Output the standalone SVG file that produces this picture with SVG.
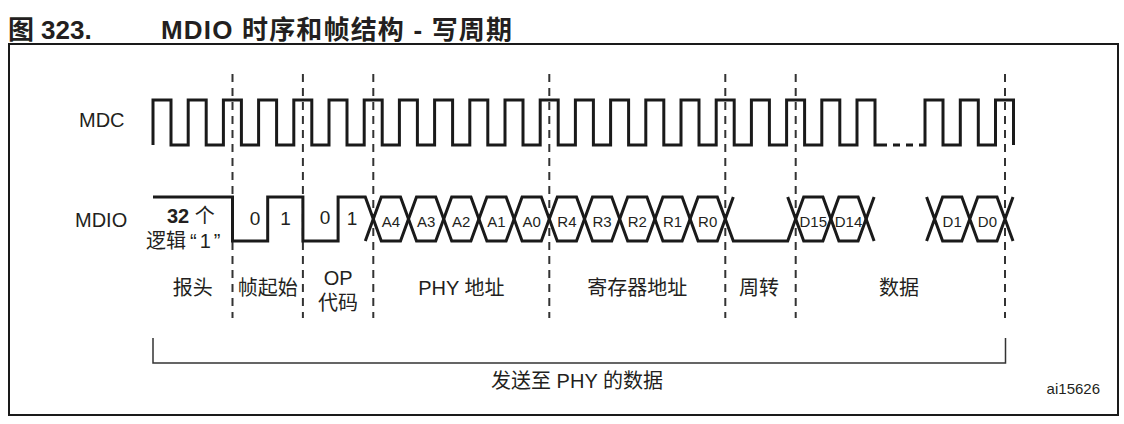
<svg xmlns="http://www.w3.org/2000/svg" width="1124" height="424" viewBox="0 0 1124 424">
<style>
.wave{fill:none;stroke:#1a1a1a;stroke-width:3;stroke-linejoin:miter;stroke-linecap:butt}
.dash{fill:none;stroke:#333;stroke-width:2;stroke-dasharray:8 6}
.t{font-family:"Liberation Sans","Noto Sans CJK SC",sans-serif;fill:#231f20}
.sig{font-size:20px}
.bit{font-size:15px;text-anchor:middle}
.b18{font-size:19px;text-anchor:middle}
.sec{font-size:20px;text-anchor:middle}
.title{font-size:26px;font-weight:bold}
</style>
<rect x="0" y="0" width="1124" height="424" fill="#fff"/>
<g id="title">
<text class="t title" x="8" y="39">图</text>
<text class="t title" x="41" y="39">323.</text>
<text class="t title" x="161" y="39" textLength="351" lengthAdjust="spacing">MDIO 时序和帧结构 - 写周期</text>
</g>
<rect id="frame" x="9" y="44" width="1109" height="371" fill="none" stroke="#1a1a1a" stroke-width="2"/>
<g id="connectors">
<path class="dash" d="M232.5,74V318M302.9,74V318M373.3,74V318M549.3,74V318M725.3,74V318M795.7,74V318M1005,74V318"/>
</g>
<g id="mdc">
<text class="t sig" x="79" y="127">MDC</text>
<path class="wave" d="M153,145V100H171V145H188.2V100H206.2V145H223.4V100H241.4V145H258.6V100H276.6V145H293.8V100H311.8V145H329V100H347V145H364.2V100H382.2V145H399.4V100H417.4V145H434.6V100H452.6V145H469.8V100H487.8V145H505V100H523V145H540.2V100H558.2V145H575.4V100H593.4V145H610.6V100H628.6V145H645.8V100H663.8V145H681V100H699V145H716.2V100H734.2V145H751.4V100H769.4V145H786.6V100H804.6V145H821.8V100H839.8V145H857V100H875V145H887"/>
<path class="wave" d="M893,145H900M906,145H913M919,145H925V100H943V145H960.3V100H978.3V145H995.5V100H1013.5V145"/>
</g>
<g id="mdio">
<text class="t sig" x="75" y="227">MDIO</text>
<path class="wave" d="M153,197H232.5V241H267.7V197H302.9V241H338.1V197H365.3L381.3,241H400.5L416.5,197H435.7L451.7,241H470.9L486.9,197H506.1L522.1,241H541.3L557.3,197H576.5L592.5,241H611.7L627.7,197H646.9L662.9,241H682.1L698.1,197H717.3L733.3,241H787.7L803.7,197H822.9L838.9,241H858.1L874.1,197"/>
<path class="wave" d="M365.3,241L381.3,197H400.5L416.5,241H435.7L451.7,197H470.9L486.9,241H506.1L522.1,197H541.3L557.3,241H576.5L592.5,197H611.7L627.7,241H646.9L662.9,197H682.1L698.1,241H717.3L733.3,197M787.7,197L803.7,241H822.9L838.9,197H858.1L874.1,241"/>
<path class="wave" d="M926.6,197L942.6,241H961.8L977.8,197H997L1013,241M926.6,241L942.6,197H961.8L977.8,241H997L1013,197"/>
</g>
<g id="preamble">
<text class="t" x="167" y="223" font-size="20"><tspan font-weight="bold">32</tspan> 个</text>
<text class="t" x="146" y="248" font-size="20">逻辑</text>
<text class="t" x="190" y="248" font-size="20" letter-spacing="3">“1”</text>
</g>
<g id="bits">
<text class="t b18" x="255" y="225">0</text>
<text class="t b18" x="285.5" y="225">1</text>
<text class="t b18" x="325" y="224">0</text>
<text class="t b18" x="352" y="225">1</text>
<text class="t bit" x="390.9" y="227">A4</text>
<text class="t bit" x="426.1" y="227">A3</text>
<text class="t bit" x="461.3" y="227">A2</text>
<text class="t bit" x="496.5" y="227">A1</text>
<text class="t bit" x="531.7" y="227">A0</text>
<text class="t bit" x="566.9" y="227">R4</text>
<text class="t bit" x="602.1" y="227">R3</text>
<text class="t bit" x="637.3" y="227">R2</text>
<text class="t bit" x="672.5" y="227">R1</text>
<text class="t bit" x="707.7" y="227">R0</text>
<text class="t bit" x="813.3" y="227">D15</text>
<text class="t bit" x="848.5" y="227">D14</text>
<text class="t bit" x="952.2" y="227">D1</text>
<text class="t bit" x="987.4" y="227">D0</text>
</g>
<g id="sections">
<text class="t sec" x="192.7" y="295">报头</text>
<text class="t sec" x="267.7" y="295">帧起始</text>
<text class="t sec" x="338.1" y="285">OP</text>
<text class="t sec" x="338.1" y="310">代码</text>
<text class="t sec" x="461.3" y="295">PHY 地址</text>
<text class="t sec" x="637.3" y="295">寄存器地址</text>
<text class="t sec" x="759" y="295">周转</text>
<text class="t sec" x="899" y="295">数据</text>
</g>
<g id="bracket">
<path d="M153,338V363H1005.5V338" fill="none" stroke="#333" stroke-width="1.5"/>
<text class="t sec" x="577" y="388">发送至 PHY 的数据</text>
</g>
<text id="figid" class="t" x="1100" y="394" font-size="15" text-anchor="end">ai15626</text>
</svg>
